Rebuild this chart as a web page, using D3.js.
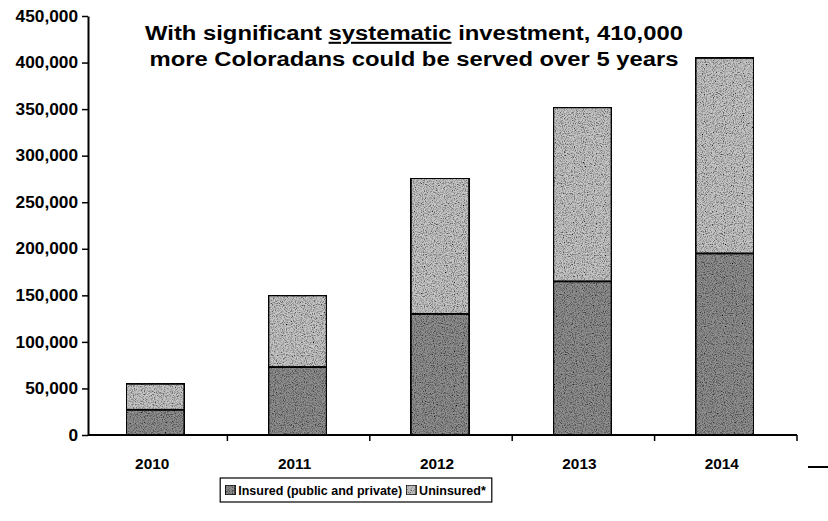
<!DOCTYPE html>
<html>
<head>
<meta charset="utf-8">
<script src="https://cdn.jsdelivr.net/npm/d3@7"></script>
<style>
  body { margin: 0; background: #fff; }
  svg { display: block; font-family: "Liberation Sans", Arial, sans-serif; }
</style>
</head>
<body>
<svg id="chart" width="828" height="521"></svg>
<script>
// data
const years = ["2010", "2011", "2012", "2013", "2014"];
const insured = [27000, 73000, 130000, 165000, 195000];
const uninsured = [28000, 77000, 146000, 187000, 210000];
const yTicks = [0, 50000, 100000, 150000, 200000, 250000, 300000, 350000, 400000, 450000];
const seriesNames = ["Insured (public and private)", "Uninsured*"];
const titleLines = ["With significant ", "systematic", " investment, 410,000"];
const titleLine2 = "more Coloradans could be served over 5 years";

const svg = d3.select("#chart");

// grainy fill to look like the scanned stipple
const defs = svg.append("defs");
const f = defs.append("filter").attr("id", "grain")
  .attr("x", 0).attr("y", 0).attr("width", 1).attr("height", 1);
f.append("feTurbulence").attr("type", "fractalNoise")
  .attr("baseFrequency", 0.9).attr("numOctaves", 2).attr("seed", 3).attr("result", "noise");
f.append("feColorMatrix").attr("in", "noise").attr("type", "matrix")
  .attr("values", "0 0 0 0 0  0 0 0 0 0  0 0 0 0 0  0 0 0 -2.2 1.3").attr("result", "dots");
f.append("feComposite").attr("in", "dots").attr("in2", "SourceGraphic").attr("operator", "in").attr("result", "d2");
f.append("feMerge").selectAll("feMergeNode").data(["SourceGraphic", "d2"]).join("feMergeNode").attr("in", d => d);

const colors = ["#8f8f8f", "#c6c6c6"];

const x = d3.scaleBand().domain(years).range([85, 797]).padding(0);
const y = d3.scaleLinear().domain([0, 450000]).range([435, 16]);
const barW = x.bandwidth() * 0.41;

// stack the two series
const rows = years.map((yr, i) => ({ year: yr, insured: insured[i], uninsured: uninsured[i] }));
const stacked = d3.stack().keys(["insured", "uninsured"])(rows);

const bars = svg.append("g");
bars.selectAll("g")
  .data(stacked)
  .join("g")
  .attr("fill", (d, i) => colors[i])
  .selectAll("rect")
  .data(d => d)
  .join("rect")
  .attr("x", d => x(d.data.year) + (x.bandwidth() - barW) / 2 - 1)
  .attr("y", d => y(d[1]))
  .attr("width", barW)
  .attr("height", d => y(d[0]) - y(d[1]))
  .attr("stroke", "#111")
  .attr("stroke-width", 2)
  .attr("filter", "url(#grain)");

// y axis (scan is stretched a bit sideways, so labels get a small x scale)
const ySx = 1.08;
const yAxis = svg.append("g")
  .attr("transform", "translate(88,0)")
  .call(d3.axisLeft(y).tickValues(yTicks).tickFormat(d3.format(",")).tickSize(6).tickSizeOuter(0));
yAxis.select(".domain").attr("stroke", "#000").attr("stroke-width", 2);
yAxis.selectAll(".tick line").attr("stroke", "#000").attr("stroke-width", 1.5);
yAxis.selectAll("text")
  .attr("x", -10 / ySx)
  .attr("transform", `scale(${ySx},1)`)
  .attr("font-family", "Liberation Sans, Arial, sans-serif")
  .attr("font-size", 16).attr("font-weight", "bold").attr("fill", "#000");

// x axis
const xSx = 1.1;
const xAxis = svg.append("g")
  .attr("transform", "translate(0,435)")
  .call(d3.axisBottom(x).tickSize(0).tickPadding(24));
xAxis.select(".domain").attr("d", `M88,0H${x.range()[1]}`).attr("stroke", "#000").attr("stroke-width", 2);
xAxis.selectAll(".tick text")
  .attr("x", -4 / xSx)
  .attr("transform", `scale(${xSx},1)`)
  .attr("font-family", "Liberation Sans, Arial, sans-serif")
  .attr("font-size", 14).attr("font-weight", "bold").attr("fill", "#000");
xAxis.selectAll("line.sep")
  .data(years)
  .join("line")
  .attr("class", "sep")
  .attr("x1", d => x(d) + x.bandwidth())
  .attr("x2", d => x(d) + x.bandwidth())
  .attr("y1", 0).attr("y2", 6)
  .attr("stroke", "#000").attr("stroke-width", 1.5);

// stray dash on the right edge of the scan
svg.append("line").attr("x1", 808).attr("x2", 828).attr("y1", 467).attr("y2", 467)
  .attr("stroke", "#000").attr("stroke-width", 2);

// title, widened like the scan
const tg = svg.append("g").attr("transform", "translate(414,0) scale(1.19,1)");
const title = tg.append("text")
  .attr("x", 0).attr("y", 40)
  .attr("text-anchor", "middle")
  .attr("font-size", 20).attr("font-weight", "bold").attr("fill", "#000");
titleLines.forEach((s, i) => {
  title.append("tspan").attr("text-decoration", i === 1 ? "underline" : null).text(s);
});
tg.append("text")
  .attr("x", 0).attr("y", 66)
  .attr("text-anchor", "middle")
  .attr("font-size", 20).attr("font-weight", "bold").attr("fill", "#000")
  .text(titleLine2);

// legend
const legend = svg.append("g").attr("transform", "translate(0,478)");
const box = legend.append("rect").attr("y", 0).attr("height", 24)
  .attr("fill", "#fff").attr("stroke", "#000").attr("stroke-width", 1.2);
const items = legend.append("g");
let lx = 5;
seriesNames.forEach((name, i) => {
  items.append("rect").attr("x", lx).attr("y", 7).attr("width", 10).attr("height", 10)
    .attr("fill", colors[i]).attr("stroke", "#000").attr("stroke-width", 1.2)
    .attr("filter", "url(#grain)");
  const t = items.append("text").attr("x", lx + 13).attr("y", 17)
    .attr("font-size", 12.5).attr("font-weight", "bold").attr("fill", "#000").text(name);
  lx += 13 + t.node().getComputedTextLength() + 4;
});
const boxW = lx + 2;
const boxX = 356 - boxW / 2;
box.attr("x", boxX).attr("width", boxW);
items.attr("transform", `translate(${boxX},0)`);
</script>
</body>
</html>
